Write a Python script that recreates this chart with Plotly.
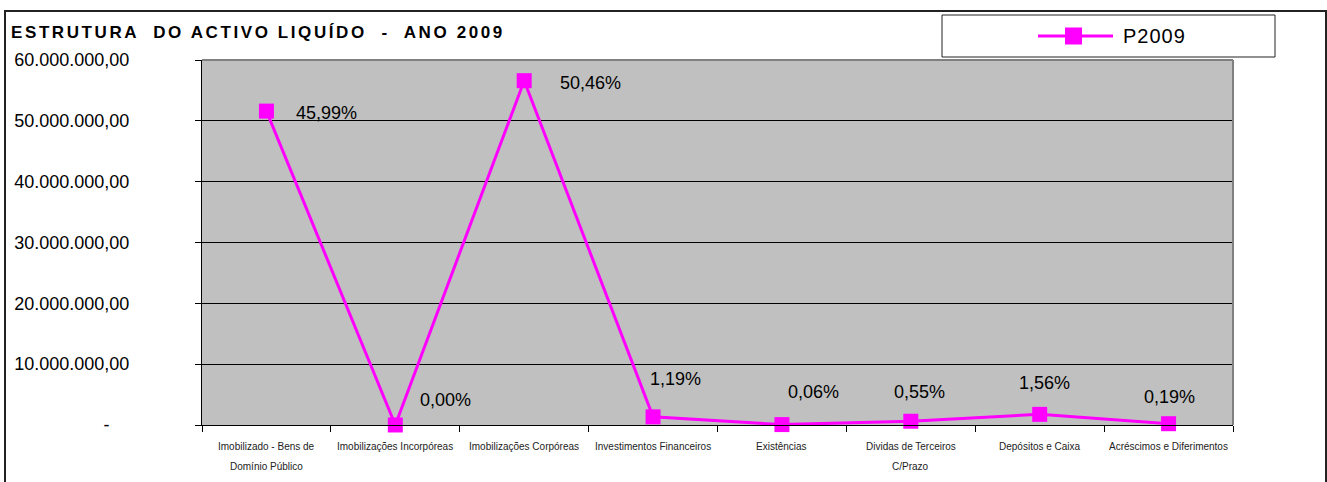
import plotly.graph_objects as go

# ---- data ----
categories = [
    "Imobilizado - Bens de<br>Domínio Público",
    "Imobilizações Incorpóreas",
    "Imobilizações Corpóreas",
    "Investimentos Financeiros",
    "Existências",
    "Dividas de Terceiros<br>C/Prazo",
    "Depósitos e Caixa",
    "Acréscimos e Diferimentos",
]
values_p2009 = [51600000, 3000, 56600000, 1340000, 67000, 617000, 1750000, 213000]
pct_labels = ["45,99%", "0,00%", "50,46%", "1,19%", "0,06%", "0,55%", "1,56%", "0,19%"]
series_name = "P2009"
y_tickvals = [0, 10000000, 20000000, 30000000, 40000000, 50000000, 60000000]
y_ticktext = ["-\u00a0\u00a0\u00a0\u00a0", "10.000.000,00", "20.000.000,00", "30.000.000,00",
              "40.000.000,00", "50.000.000,00", "60.000.000,00"]
title_text = "ESTRUTURA  DO ACTIVO LIQUÍDO  -  ANO 2009"

# ---- layout geometry (pixels) ----
W, H = 1327, 482
L, R, T, B = 202, 1233, 60, 425
def px(x):
    return (x - L) / (R - L)
def py(y):
    return (B - y) / (B - T)

# label offsets (style, pixels: dx right, dy down)
label_offsets = [(60, 2), (50, -25), (66, 2), (22, -38), (32, -33), (9, -29), (5, -31), (1, -27)]

x_idx = list(range(len(categories)))

fig = go.Figure()
# underlying navy series (as in original Excel chart)
fig.add_trace(go.Scatter(
    x=x_idx, y=values_p2009, mode="lines+markers",
    line=dict(color="#000080", width=1.5),
    marker=dict(symbol="diamond", size=8, color="#000080"),
    showlegend=False, hoverinfo="skip", cliponaxis=False,
))
fig.add_trace(go.Scatter(
    x=x_idx, y=values_p2009, mode="lines+markers", name=series_name,
    line=dict(color="#FF00FF", width=3),
    marker=dict(symbol="square", size=15, color="#FF00FF"),
    showlegend=False, cliponaxis=False,
))

annotations = []
for i, (lab, v) in enumerate(zip(pct_labels, values_p2009)):
    dx, dy = label_offsets[i]
    annotations.append(dict(
        x=i, y=v, xref="x", yref="y", text=lab, showarrow=False,
        xanchor="center", yanchor="middle", xshift=dx, yshift=-dy,
        font=dict(family="Liberation Sans, Arial", size=18, color="black"),
    ))

# category labels (two-line labels with Excel-like line spacing)
for i, cat in enumerate(categories):
    for j, line in enumerate(cat.split("<br>")):
        annotations.append(dict(
            x=i, y=0, xref="x", yref="paper", text=line, showarrow=False,
            xanchor="center", yanchor="middle", yshift=-(21 + 20 * j),
            font=dict(family="Liberation Sans, Arial", size=10, color="#222222"),
        ))

# title
annotations.append(dict(
    x=px(9), y=py(32), xref="paper", yref="paper", showarrow=False,
    xanchor="left", yanchor="middle",
    text='<span style="letter-spacing:2.6px">' + title_text + '</span>',
    font=dict(family="Liberation Sans, Arial", size=17, color="black", weight="bold"),
))
# legend text
annotations.append(dict(
    x=px(1121), y=py(36), xref="paper", yref="paper", showarrow=False,
    xanchor="left", yanchor="middle",
    text='<span style="letter-spacing:1px">' + series_name + '</span>',
    font=dict(family="Liberation Sans, Arial", size=20, color="black"),
))

shapes = [
    # outer chart border
    dict(type="rect", xref="paper", yref="paper", x0=px(5), x1=px(1326), y0=py(500), y1=py(11),
         line=dict(color="#222222", width=2), fillcolor="rgba(0,0,0,0)", layer="below"),
    # plot area gray border top and right
    dict(type="line", xref="paper", yref="paper", x0=0, x1=1, y0=1, y1=1,
         line=dict(color="#808080", width=2)),
    dict(type="line", xref="paper", yref="paper", x0=1, x1=1, y0=0, y1=1,
         line=dict(color="#808080", width=2)),
    # legend box
    dict(type="rect", xref="paper", yref="paper", x0=px(942), x1=px(1275), y0=py(57), y1=py(15),
         line=dict(color="#222222", width=1), fillcolor="white"),
    # legend line symbol
    dict(type="line", xref="paper", yref="paper", x0=px(1038), x1=px(1113), y0=py(36), y1=py(36),
         line=dict(color="#FF00FF", width=3)),
    dict(type="rect", xref="paper", yref="paper", x0=px(1065), x1=px(1082), y0=py(44.5), y1=py(27.5),
         line=dict(color="#FF00FF", width=0), fillcolor="#FF00FF"),
]

fig.update_layout(
    width=W, height=H,
    margin=dict(l=L, r=W - R, t=T, b=H - B, pad=0),
    paper_bgcolor="white", plot_bgcolor="#C0C0C0",
    showlegend=False,
    annotations=annotations, shapes=shapes,
    xaxis=dict(
        type="linear", range=[-0.5, len(categories) - 0.5],
        tickvals=[i + 0.5 for i in range(-1, len(categories))],
        showticklabels=False, ticks="outside", ticklen=6, tickcolor="black", tickwidth=1,
        showgrid=False, zeroline=False, showline=True, linecolor="black", linewidth=1,
        fixedrange=True,
    ),
    yaxis=dict(
        range=[0, 60000000], tickvals=y_tickvals, ticktext=y_ticktext,
        ticks="outside", ticklen=6, tickcolor="black", tickwidth=1,
        showgrid=True, gridcolor="black", gridwidth=1, zeroline=False,
        showline=True, linecolor="black", linewidth=1,
        tickfont=dict(family="Liberation Sans, Arial", size=18, color="black"),
        ticklabelstandoff=62,
        fixedrange=True,
    ),
)

fig.write_html("out.html")
